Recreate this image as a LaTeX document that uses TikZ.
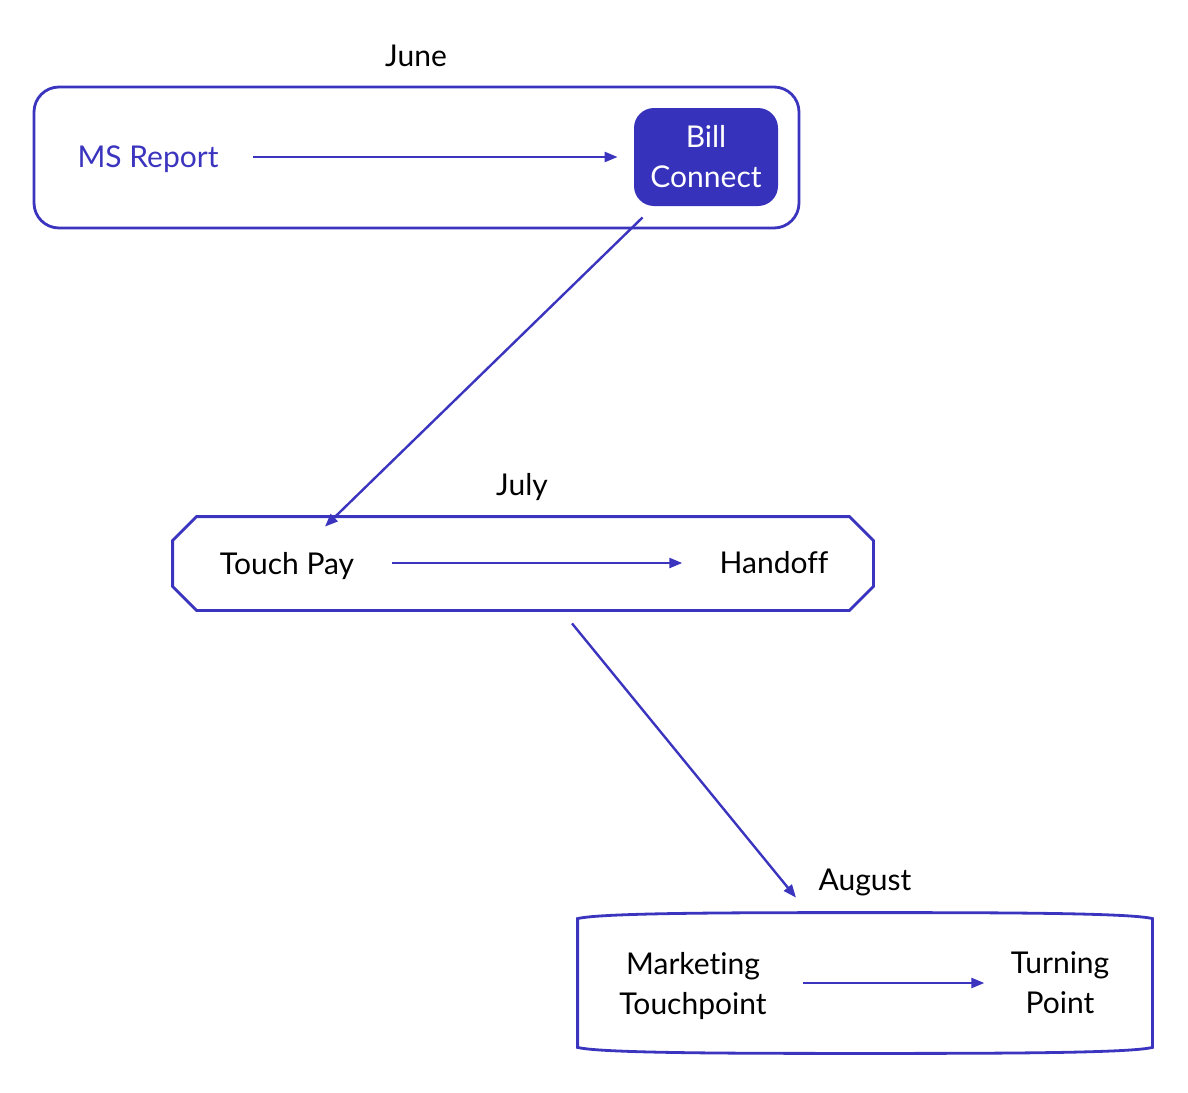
\documentclass[tikz,border=0pt]{standalone}
\usepackage{fontspec}
\setmainfont{Lato}[Ligatures=NoCommon]
\usetikzlibrary{arrows.meta}
\definecolor{linkblue}{RGB}{58,52,190}
\definecolor{billfill}{RGB}{54,50,188}
\begin{document}
\begin{tikzpicture}[
    x=0.5pt,y=-0.5pt,
    every node/.style={font=\fontsize{15}{20}\selectfont,inner sep=0pt},
    frame/.style={draw=linkblue,line width=1.4pt},
    lbl/.style={align=center},
    arr/.style={-{Triangle[length=6.5pt,width=5pt]},draw=linkblue,line width=1.2pt}
]
\useasboundingbox (0,0) rectangle (1188,1092);
\node[frame,rounded corners=12.5pt,minimum width=382.5pt,minimum height=70.5pt] (june) at (416.5,157.5) {};
\node[lbl] (junelbl) at (416,56) {June};
\node[lbl,text=linkblue] (msreport) at (148,159) {MS Report};
\node[lbl,fill=billfill,text=white,rounded corners=10pt,minimum width=72pt,minimum height=49pt] (bill) at (706,157) {Bill\\Connect};
\draw[arr,shorten <=17pt,shorten >=8pt] (msreport.east |- bill.west) -- (bill.west);

\node[minimum width=350pt,minimum height=46.5pt] (july) at (523,563.5) {};
\draw[frame] ([xshift=12pt]july.north west) -- ([xshift=-12pt]july.north east)
    -- ([yshift=-12pt]july.north east) -- ([yshift=12pt]july.south east)
    -- ([xshift=-12pt]july.south east) -- ([xshift=12pt]july.south west)
    -- ([yshift=12pt]july.south west) -- ([yshift=-12pt]july.north west) -- cycle;
\node[lbl] (julylbl) at (522,487) {July};
\node[lbl] (touchpay) at (287,566) {Touch Pay};
\node[lbl] (handoff) at (774,563) {Handoff};
\draw[arr,shorten <=19pt,shorten >=18.5pt] (touchpay.east |- handoff.east) -- (handoff.west);

\node[minimum width=287pt,minimum height=70pt] (august) at (865,983) {};
\draw[frame] ([yshift=-3pt]august.north west) .. controls +(12pt,3pt) and +(-60pt,0pt) .. (august.north)
    .. controls +(60pt,0pt) and +(-12pt,3pt) .. ([yshift=-3pt]august.north east)
    -- ([yshift=3pt]august.south east) .. controls +(-12pt,-3pt) and +(60pt,0pt) .. (august.south)
    .. controls +(-60pt,0pt) and +(12pt,-3pt) .. ([yshift=3pt]august.south west) -- cycle;
\node[lbl] (auglbl) at (865,882) {August};
\node[lbl] (marketing) at (693,986) {Marketing\\Touchpoint};
\node[lbl] (turning) at (1060,983) {Turning\\Point};
\draw[arr,shorten <=18pt,shorten >=13pt] (marketing.east |- turning.west) -- (turning.west);

\draw[arr] ([xshift=4.5pt,yshift=-5.5pt]bill.south west) -- ([xshift=-99pt,yshift=-5pt]july.north);
\draw[arr] ([xshift=24.5pt,yshift=-6.5pt]july.south) -- ([xshift=-34.5pt,yshift=7.5pt]august.north);
\end{tikzpicture}
\end{document}
